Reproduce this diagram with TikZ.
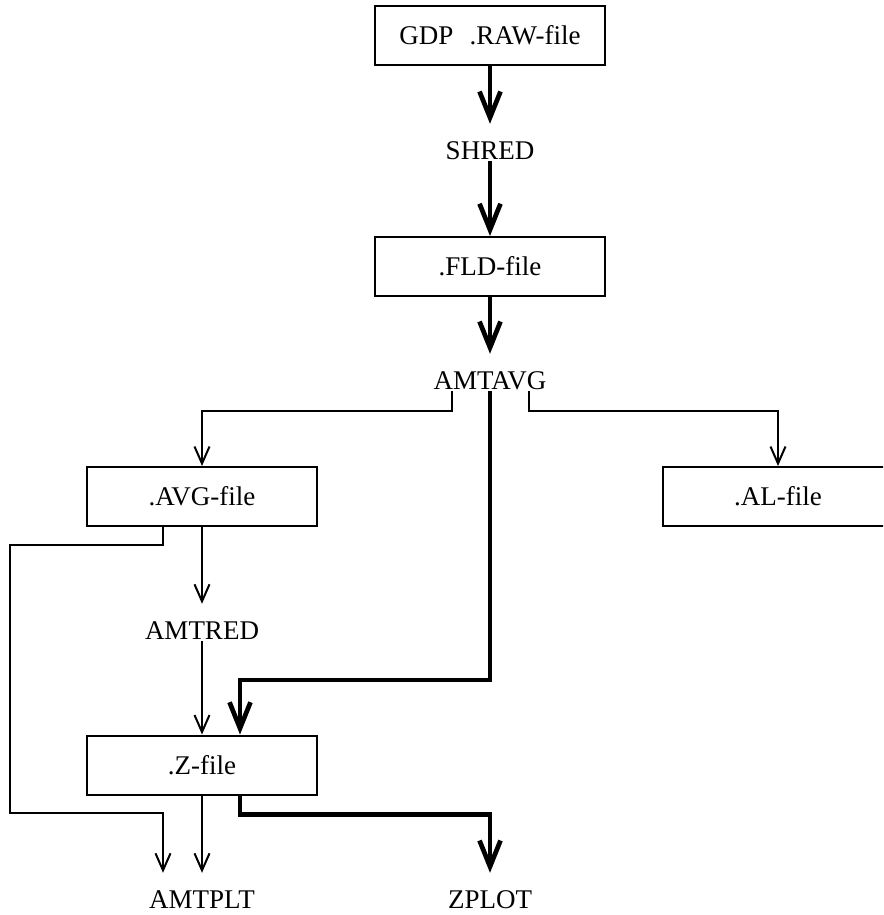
\documentclass[tikz,border=0pt]{standalone}
\usepackage{fontspec}
\setmainfont{Liberation Serif}
\usetikzlibrary{arrows.meta,calc}
\begin{document}
\begin{tikzpicture}[x=1pt,y=-1pt,
  every node/.style={font=\fontsize{27}{30}\selectfont},
  filebox/.style={draw,line width=2pt,minimum width=230pt,minimum height=59pt,inner sep=0pt},
  lbl/.style={inner sep=0pt,text height=35pt,text depth=2pt,anchor=base},
  thinarr/.style={line width=2pt,-{Straight Barb[length=17pt,width=15pt]}},
  thickarr/.style={line width=4.7pt,-{Straight Barb[length=26pt,width=21pt]}}]
\useasboundingbox (0,0) rectangle (883,915);
\clip (0,0) rectangle (883,915);
% boxes
\node[filebox] (RAW) at (490,35.5) {GDP\hspace{0.6em}.RAW-file};
\node[filebox] (FLD) at (490,266.5) {.FLD-file};
\node[filebox] (AVG) at (202,496.5) {.AVG-file};
\node[filebox] (AL) at (778,496.5) {.AL-file};
\node[filebox] (Z) at (202,765) {.Z-file};
% labels (placed at baseline)
\node[lbl] (SHRED) at (490,159) {SHRED};
\node[lbl] (AMTAVG) at (490,389) {AMTAVG};
\node[lbl] (AMTRED) at (202,639) {AMTRED};
\node[lbl] (AMTPLT) at (202,908) {AMTPLT};
\node[lbl] (ZPLOT) at (490,908) {ZPLOT};
\coordinate (k1) at (490,680);
\coordinate (lft) at (10,813);
% main thick flow
\draw[thickarr] (RAW.south) -- (SHRED.north);
\draw[thickarr] (SHRED.south) -- (FLD.north);
\draw[thickarr] (FLD.south) -- (AMTAVG.north);
\draw[thickarr] (AMTAVG.south) -- (k1) -| ([xshift=38pt]Z.north);
\draw[thickarr] ([xshift=38pt]Z.south) -- ++(0,19) -| (ZPLOT.north);
% AMTAVG branches
\draw[thinarr] ([xshift=-38pt]AMTAVG.south) -- ++(0,20) -| (AVG.north);
\draw[thinarr] ([xshift=39pt]AMTAVG.south) -- ++(0,20) -| (AL.north);
% AVG branches
\draw[thinarr] (AVG.south) -- (AMTRED.north);
\draw[thinarr] (AMTRED.south) -- (Z.north);
\draw[thinarr] ([xshift=-39pt]AVG.south) -- ++(0,18) -| (lft) -| ([xshift=-39pt]AMTPLT.north);
\draw[thinarr] (Z.south) -- (AMTPLT.north);
\end{tikzpicture}
\end{document}
